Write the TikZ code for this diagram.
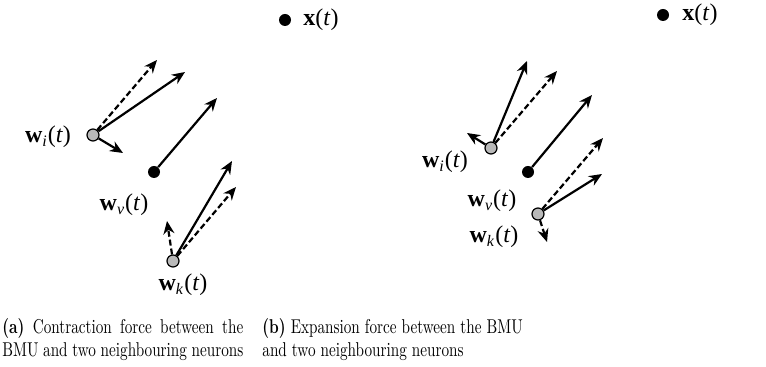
\documentclass[tikz,border=0pt]{standalone}
\usepackage{fontspec}
\usepackage{graphicx}
\newfontfamily\labelfont{Liberation Serif}
\usetikzlibrary{arrows.meta}
\newcommand{\wlab}[1]{\textbf{w}\textsubscript{\textit{#1}}(\textit{t})}
\newcommand{\captbox}[2]{\scalebox{0.76}[1]{\parbox{#1}{#2}}}

\begin{document}
\begin{tikzpicture}[x=0.5pt,y=-0.5pt,
  force/.style={line width=1.1pt,-{Stealth[length=6.5pt,width=5.5pt]}},
  oldforce/.style={force,dash pattern=on 3pt off 1.5pt},
  bmu/.style={circle,fill=black,inner sep=0pt,minimum size=6pt},
  neuron/.style={circle,draw=black,line width=0.6pt,fill=gray!55,inner sep=0pt,minimum size=6pt},
  lbl/.style={font=\labelfont\fontsize{12}{14}\selectfont,inner sep=0pt},
  capt/.style={anchor=north west,inner sep=0pt,font=\fontsize{10}{11.5}\selectfont}]
  \useasboundingbox (0,0) rectangle (766,367);

  % (a) contraction: neighbours pulled towards the BMU
  \node[bmu] (xa) at (285,20) {};
  \node[lbl,anchor=west] (xalab) at (303,20) {\textbf{x}(\textit{t})};
  \node[neuron] (wia) at (93,135) {};
  \node[bmu] (wva) at (154,172) {};
  \node[neuron] (wka) at (173,261) {};
  \node[lbl] (wialab) at (48,137) {\wlab{i}};
  \node[lbl] (wvalab) at (124,205) {\wlab{v}};
  \node[lbl] (wkalab) at (183,285) {\wlab{k}};
  \coordinate (wia1) at (157,60);
  \coordinate (wia2) at (185,72);
  \coordinate (wia3) at (123,153);
  \coordinate (wva1) at (217,98);
  \coordinate (wka1) at (232,161);
  \coordinate (wka2) at (236,187);
  \coordinate (wka3) at (167,221);
  \draw[oldforce] (wia) -- (wia1);
  \draw[force] (wia) -- (wia2);
  \draw[force] (wia) -- (wia3);
  \draw[force] (wva) -- (wva1);
  \draw[force] (wka) -- (wka1);
  \draw[oldforce] (wka) -- (wka2);
  \draw[oldforce] (wka) -- (wka3);

  % (b) expansion: neighbours pushed away from the BMU
  \node[bmu] (xb) at (663,15) {};
  \node[lbl,anchor=west] (xblab) at (682,15) {\textbf{x}(\textit{t})};
  \node[neuron] (wib) at (491,148) {};
  \node[bmu] (wvb) at (528,172) {};
  \node[neuron] (wkb) at (538,214) {};
  \node[lbl] (wiblab) at (445,162) {\wlab{i}};
  \node[lbl] (wvblab) at (492,201) {\wlab{v}};
  \node[lbl] (wkblab) at (494,237) {\wlab{k}};
  \coordinate (wib1) at (527,61);
  \coordinate (wib2) at (557,71);
  \coordinate (wib3) at (467,133);
  \coordinate (wvb1) at (592,95);
  \coordinate (wkb1) at (603,138);
  \coordinate (wkb2) at (602,174);
  \coordinate (wkb3) at (547,242);
  \draw[force] (wib) -- (wib1);
  \draw[oldforce] (wib) -- (wib2);
  \draw[force] (wib) -- (wib3);
  \draw[force] (wvb) -- (wvb1);
  \draw[oldforce] (wkb) -- (wkb1);
  \draw[force] (wkb) -- (wkb2);
  \draw[oldforce] (wkb) -- (wkb3);

  % captions
  \node[capt] (capa) at (2,318) {\captbox{158.5pt}{\parfillskip=0pt
    \textbf{(a)} Contraction force between the\linebreak
    BMU and two neighbouring neurons}};
  \node[capt] (capb) at (262,318) {\captbox{220pt}{\raggedright
    \textbf{(b)} Expansion force between the BMU\\
    and two neighbouring neurons}};
\end{tikzpicture}
\end{document}
